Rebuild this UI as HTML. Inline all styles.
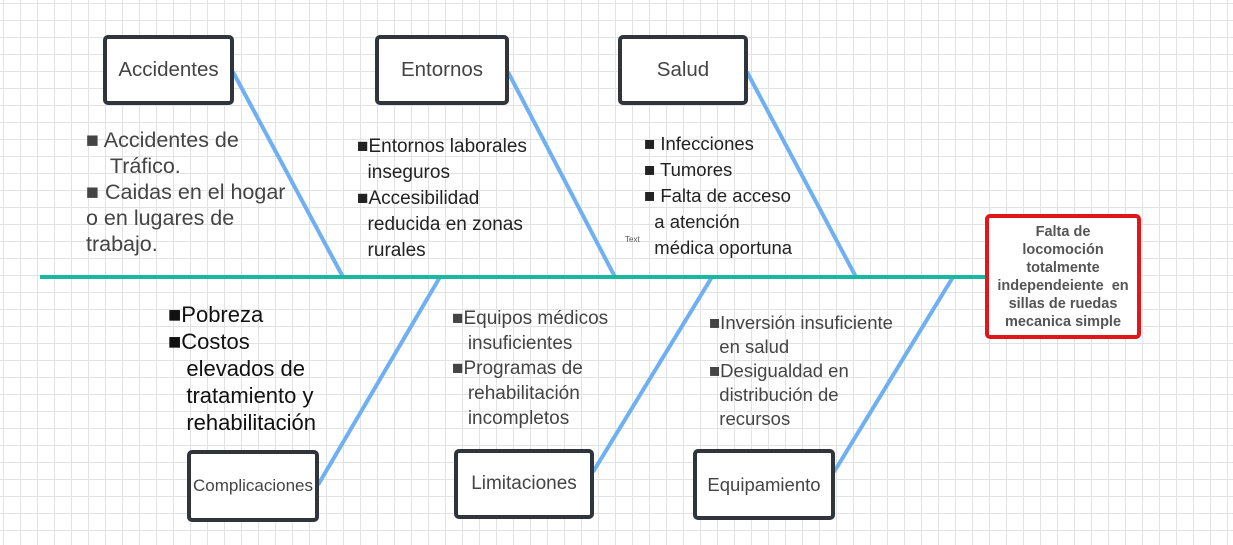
<!DOCTYPE html>
<html><head><meta charset="utf-8"><style>
body{margin:0;width:1233px;height:545px;overflow:hidden;background:#fff;
background-image:linear-gradient(#e2e2e2 1px,transparent 1px),linear-gradient(90deg,#e2e2e2 1px,transparent 1px);
background-size:17px 17px;background-position:3px 3px;font-family:"Liberation Sans",sans-serif;position:relative}
.b{position:absolute;box-sizing:border-box;border:4px solid #30343b;border-radius:5px;background:#fff;display:flex;align-items:center;justify-content:center;color:#444;font-size:20.5px}
.t{position:absolute;color:#333;line-height:26px;white-space:nowrap}
</style></head><body>
<svg width="1233" height="545" style="position:absolute;left:0;top:0">
<g stroke="#6eb0f2" stroke-width="4" fill="none">
<line x1="233" y1="72" x2="343" y2="277"/><line x1="508" y1="72" x2="615" y2="277"/><line x1="747" y1="72" x2="856" y2="277"/>
<line x1="318" y1="485" x2="440" y2="277"/><line x1="593" y1="472" x2="712" y2="277"/><line x1="834" y1="472" x2="953" y2="277"/>
</g>
<line x1="40" y1="277" x2="988" y2="277" stroke="#17b9a0" stroke-width="4"/>
</svg>
<div class="b" style="left:103px;top:35px;width:131px;height:70px">Accidentes</div>
<div class="b" style="left:375px;top:35px;width:134px;height:70px">Entornos</div>
<div class="b" style="left:618px;top:35px;width:130px;height:70px">Salud</div>
<div class="b" style="left:187px;top:450px;width:132px;height:72px;font-size:17px">Complicaciones</div>
<div class="b" style="left:454px;top:449px;width:140px;height:70px;font-size:19px">Limitaciones</div>
<div class="b" style="left:693px;top:449px;width:142px;height:71px;font-size:18.5px">Equipamiento</div>
<div class="b" style="left:985px;top:214px;width:156px;height:125px;border-color:#e0161b;font-weight:bold;font-size:14.5px;text-align:center;line-height:18px;color:#555">Falta de<br>locomoción<br>totalmente<br>independeiente &nbsp;en<br>sillas de ruedas<br>mecanica simple</div>
<div class="t" style="left:86px;top:127px;font-size:21.5px;color:#444">■ Accidentes de<br>&nbsp;&nbsp;&nbsp;&nbsp;Tráfico.<br>■ Caidas en el hogar<br>o en lugares de<br>trabajo.</div>
<div class="t" style="left:357px;top:134px;font-size:19px;color:#222">■Entornos laborales<br>&nbsp;&nbsp;inseguros<br>■Accesibilidad<br>&nbsp;&nbsp;reducida en zonas<br>&nbsp;&nbsp;rurales</div>
<div class="t" style="left:644px;top:131px;font-size:18.5px;color:#222">■ Infecciones<br>■ Tumores<br>■ Falta de acceso<br>&nbsp;&nbsp;a atención<br>&nbsp;&nbsp;médica oportuna</div>
<div class="t" style="left:625px;top:235px;font-size:8px;line-height:10px;color:#555">Text</div>
<div class="t" style="left:168px;top:301px;font-size:22px;line-height:27px;color:#111">■Pobreza<br>■Costos<br>&nbsp;&nbsp;&nbsp;elevados de<br>&nbsp;&nbsp;&nbsp;tratamiento y<br>&nbsp;&nbsp;&nbsp;rehabilitación</div>
<div class="t" style="left:452px;top:306px;font-size:19px;line-height:25px;color:#444">■Equipos médicos<br>&nbsp;&nbsp;&nbsp;insuficientes<br>■Programas de<br>&nbsp;&nbsp;&nbsp;rehabilitación<br>&nbsp;&nbsp;&nbsp;incompletos</div>
<div class="t" style="left:709px;top:311px;font-size:18.5px;line-height:24px;color:#444">■Inversión insuficiente<br>&nbsp;&nbsp;en salud<br>■Desigualdad en<br>&nbsp;&nbsp;distribución de<br>&nbsp;&nbsp;recursos</div>
</body></html>
